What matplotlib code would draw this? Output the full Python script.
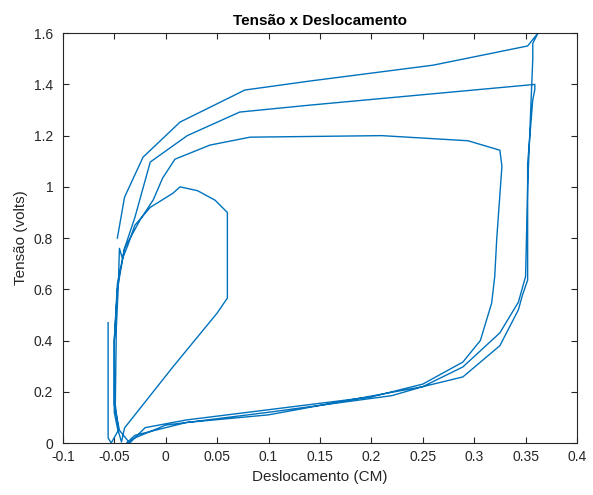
import matplotlib
matplotlib.use("Agg")
import matplotlib.pyplot as plt

# deslocamento (CM) and tensão (volts) in order
desloc = [
    -0.056, -0.056, -0.053, -0.046, -0.049, -0.048, -0.046, -0.045, -0.042, -0.037,
    -0.030, -0.015, 0.007, 0.014, 0.031, 0.048, 0.060, 0.060, 0.050, 0.007,
    -0.040, -0.043, -0.047, -0.050, -0.050, -0.047, -0.040, -0.025, -0.012, -0.003,
    0.009, 0.043, 0.082, 0.210, 0.294, 0.325, 0.327, 0.322, 0.320, 0.317,
    0.306, 0.289, 0.250, 0.200, 0.100, 0.020, -0.020, -0.035, -0.045, -0.050,
    -0.050, -0.047, -0.040, -0.030, -0.015, 0.021, 0.072, 0.140, 0.359, 0.359,
    0.357, 0.352, 0.352, 0.347, 0.343, 0.325, 0.289, 0.250, 0.220, 0.100,
    0.000, -0.030, -0.038, -0.030, 0.020, 0.100, 0.250, 0.289, 0.325, 0.343,
    0.350, 0.352, 0.355, 0.357, 0.357, 0.362, 0.352, 0.260, 0.140, 0.077,
    0.014, -0.022, -0.040, -0.047,
]
tensao = [
    0.47, 0.02, 0.00, 0.05, 0.15, 0.45, 0.62, 0.76, 0.72, 0.77,
    0.85, 0.92, 0.975, 1.00, 0.985, 0.948, 0.90, 0.566, 0.507, 0.297,
    0.059, 0.004, 0.06, 0.12, 0.40, 0.62, 0.76, 0.87, 0.95, 1.034,
    1.108, 1.163, 1.194, 1.20, 1.18, 1.143, 1.08, 0.80, 0.65, 0.546,
    0.40, 0.316, 0.23, 0.18, 0.13, 0.09, 0.06, 0.00, 0.05, 0.15,
    0.40, 0.60, 0.76, 0.88, 1.097, 1.20, 1.292, 1.319, 1.40, 1.38,
    1.34, 1.09, 0.636, 0.578, 0.52, 0.38, 0.258, 0.22, 0.185, 0.12,
    0.07, 0.02, 0.00, 0.03, 0.08, 0.11, 0.22, 0.297, 0.43, 0.55,
    0.65, 1.00, 1.30, 1.50, 1.56, 1.60, 1.55, 1.475, 1.413, 1.378,
    1.253, 1.116, 0.96, 0.80,
]

xticks = [-0.1, -0.05, 0, 0.05, 0.1, 0.15, 0.2, 0.25, 0.3, 0.35, 0.4]
xtick_labels = ["-0.1", "-0.05", "0", "0.05", "0.1", "0.15", "0.2", "0.25", "0.3", "0.35", "0.4"]
yticks = [0, 0.2, 0.4, 0.6, 0.8, 1, 1.2, 1.4, 1.6]
ytick_labels = ["0", "0.2", "0.4", "0.6", "0.8", "1", "1.2", "1.4", "1.6"]

plt.rcParams["font.family"] = ["Liberation Sans", "DejaVu Sans"]

fig = plt.figure(figsize=(5.93, 4.95), dpi=100)
ax = fig.add_axes([0.106, 0.105, 0.867, 0.828])

ax.plot(desloc, tensao, color="#0072BD", linewidth=1.0)

ax.set_xlim(-0.1, 0.4)
ax.set_ylim(0, 1.6)
ax.set_xticks(xticks)
ax.set_xticklabels(xtick_labels)
ax.set_yticks(yticks)
ax.set_yticklabels(ytick_labels)
ax.tick_params(direction="in", length=4, width=0.8, top=True, right=True,
               labelsize=10, colors="#262626")
ax.tick_params(axis="y", pad=7)
ax.tick_params(axis="x", pad=5)
for s in ax.spines.values():
    s.set_color("#262626")
    s.set_linewidth(0.8)

ax.set_title("Tensão x Deslocamento", fontsize=11, fontweight="bold", color="black")
ax.set_xlabel("Deslocamento (CM)", fontsize=11, color="#262626")
ax.set_ylabel("Tensão (volts)", fontsize=11, color="#262626")

fig.savefig("out.png", dpi=100)
